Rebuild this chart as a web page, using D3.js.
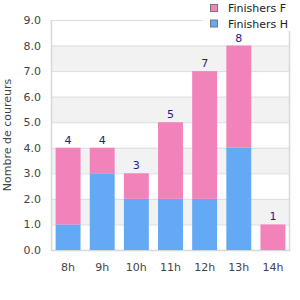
<!DOCTYPE html>
<html>
<head>
<meta charset="utf-8">
<script src="https://cdn.jsdelivr.net/npm/d3@7"></script>
<style>
  body { margin: 0; background: #fff; }
  svg { font-family: "DejaVu Sans", sans-serif; }
</style>
</head>
<body>
<div id="viz"></div>
<script>
var heures = ['8h', '9h', '10h', '11h', '12h', '13h', '14h'],
    finishersH = [1, 3, 2, 2, 2, 4, 0],
    finishersF = [3, 1, 1, 3, 5, 4, 1],
    yTicks = [0, 1, 2, 3, 4, 5, 6, 7, 8, 9];

var margin = { top: 20, right: 10, bottom: 50, left: 51 },
    width = 300 - margin.left - margin.right,
    height = 300 - margin.top - margin.bottom;

var colorF = '#f283ba',
    colorH = '#63a9f3';

var svg = d3.select('#viz').append('svg')
  .attr('width', 300)
  .attr('height', 300);

var g = svg.append('g')
  .attr('transform', 'translate(' + margin.left + ',' + margin.top + ')');

var yScale = d3.scaleLinear().domain([0, 9]).range([height, 0]);
var xScale = d3.scaleBand().domain(heures).range([0, width])
  .paddingInner(0.27).paddingOuter(0.135);

// bandes alternees
g.selectAll('rect.band').data([1, 3, 5, 7])
  .enter().append('rect')
    .attr('x', 0)
    .attr('width', width)
    .attr('y', function(d) { return yScale(d + 1); })
    .attr('height', function(d) { return yScale(d) - yScale(d + 1); })
    .attr('fill', '#f2f2f2');

// grille
g.selectAll('line.grid').data(yTicks)
  .enter().append('line')
    .attr('x1', 0).attr('x2', width)
    .attr('y1', function(d) { return yScale(d) + 0.5; })
    .attr('y2', function(d) { return yScale(d) + 0.5; })
    .attr('stroke', '#dcdcdc');

// bordures
g.append('line').attr('x1', 0.5).attr('x2', 0.5).attr('y1', 0).attr('y2', height + 1)
  .attr('stroke', '#d8d8d8').attr('stroke-width', 1.5);
g.append('line').attr('x1', width - 0.5).attr('x2', width - 0.5).attr('y1', 0).attr('y2', height + 1)
  .attr('stroke', '#d8d8d8').attr('stroke-width', 1.5);
g.append('line').attr('x1', 0).attr('x2', width).attr('y1', height + 0.5).attr('y2', height + 0.5)
  .attr('stroke', '#d8d8d8').attr('stroke-width', 1.5);

var totals = heures.map(function(h, i) { return finishersH[i] + finishersF[i]; });

// barres H
g.selectAll('rect.h').data(heures)
  .enter().append('rect')
    .attr('x', function(d) { return xScale(d); })
    .attr('width', xScale.bandwidth())
    .attr('y', function(d, i) { return yScale(finishersH[i]); })
    .attr('height', function(d, i) { return height - yScale(finishersH[i]); })
    .attr('fill', colorH);

// barres F
g.selectAll('rect.f').data(heures)
  .enter().append('rect')
    .attr('x', function(d) { return xScale(d); })
    .attr('width', xScale.bandwidth())
    .attr('y', function(d, i) { return yScale(totals[i]); })
    .attr('height', function(d, i) { return yScale(finishersH[i]) - yScale(totals[i]); })
    .attr('fill', colorF);

// totaux
g.selectAll('text.total').data(heures)
  .enter().append('text')
    .attr('x', function(d) { return xScale(d) + xScale.bandwidth() / 2; })
    .attr('y', function(d, i) { return yScale(totals[i]) - 4; })
    .attr('text-anchor', 'middle')
    .attr('font-size', 11)
    .attr('fill', '#1a1aa0')
    .text(function(d, i) { return totals[i]; });

// axe y
g.selectAll('text.ytick').data(yTicks)
  .enter().append('text')
    .attr('x', -10)
    .attr('y', function(d) { return yScale(d) + 4; })
    .attr('text-anchor', 'end')
    .attr('font-size', 11)
    .attr('fill', '#444')
    .text(function(d) { return d3.format('.1f')(d); });

// axe x
g.selectAll('text.xtick').data(heures)
  .enter().append('text')
    .attr('x', function(d) { return xScale(d) + xScale.bandwidth() / 2; })
    .attr('y', height + 21)
    .attr('text-anchor', 'middle')
    .attr('font-size', 11)
    .attr('fill', '#444')
    .text(function(d) { return d; });

svg.append('text')
  .attr('transform', 'translate(11,' + (margin.top + height / 2) + ') rotate(-90)')
  .attr('text-anchor', 'middle')
  .attr('font-size', 11)
  .attr('fill', '#444')
  .text('Nombre de coureurs');

// legende
var legend = svg.append('g').attr('transform', 'translate(203,0)');
legend.append('rect').attr('x', 0).attr('y', 0).attr('width', 97).attr('height', 31).attr('fill', '#fff');
var items = [['Finishers F', colorF], ['Finishers H', colorH]];
items.forEach(function(it, i) {
  legend.append('rect')
    .attr('x', 7.5).attr('y', 4.5 + i * 15.5)
    .attr('width', 7).attr('height', 7)
    .attr('fill', it[1]).attr('stroke', '#777');
  legend.append('text')
    .attr('x', 25).attr('y', 12 + i * 15.5)
    .attr('font-size', 11)
    .attr('fill', '#222')
    .text(it[0]);
});
</script>
</body>
</html>
